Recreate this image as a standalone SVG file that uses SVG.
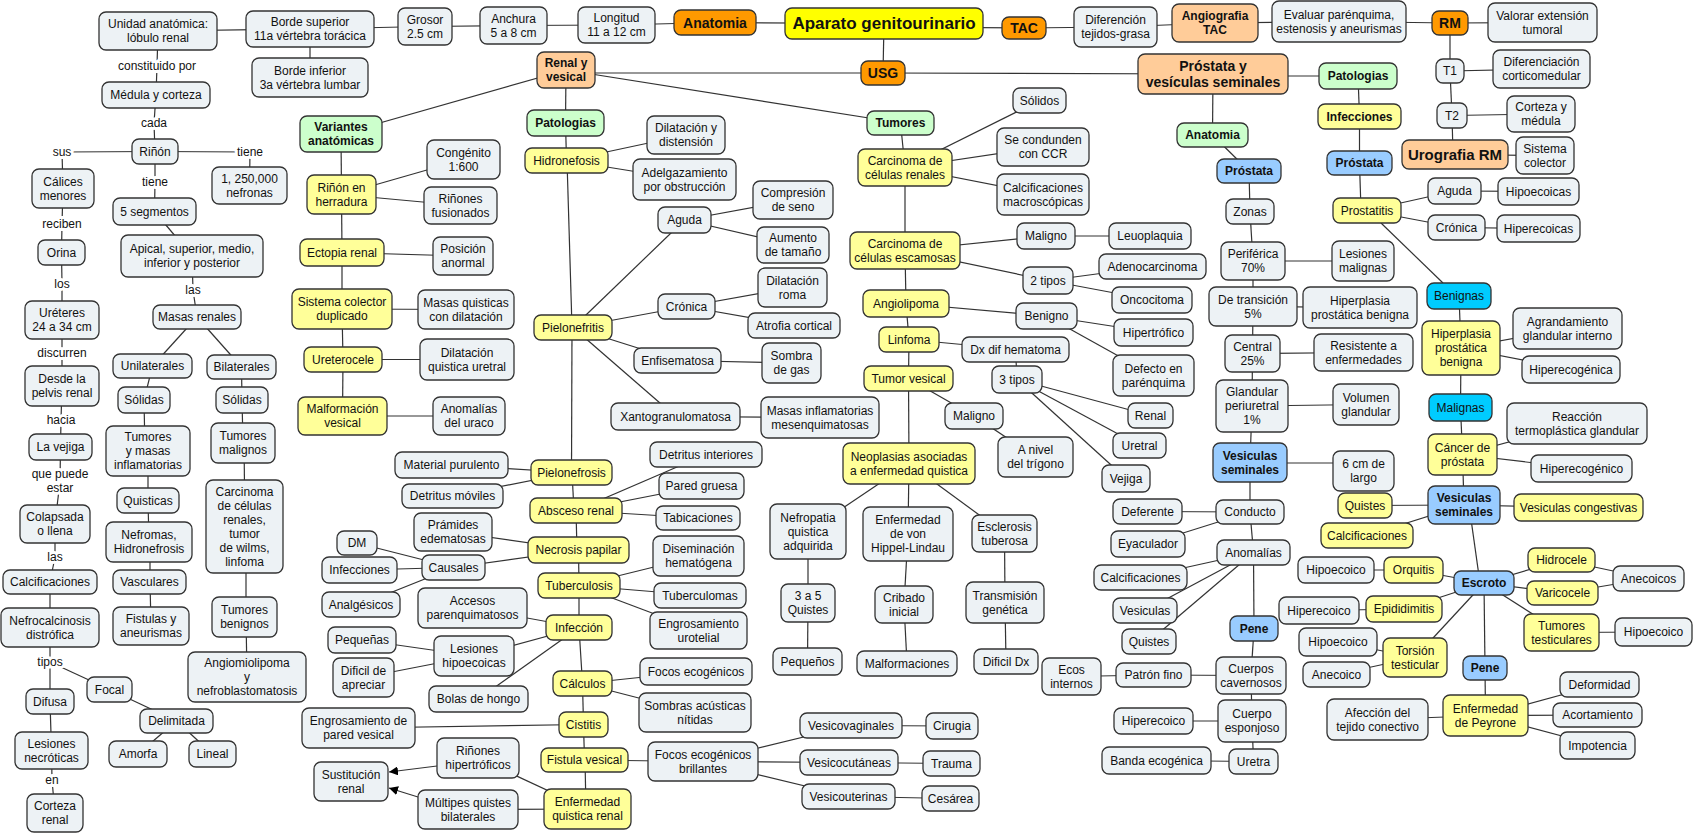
<svg xmlns="http://www.w3.org/2000/svg" width="1695" height="834" viewBox="0 0 1695 834">
<style>
rect{stroke:#333;stroke-width:1.3;rx:7px;ry:7px}
.g{fill:#EDF2F5}.y{fill:#FFFF99}.gr{fill:#CCFFCC}.o{fill:#FF9900}.lo{fill:#FFCC99}.b{fill:#99CCFF}.c{fill:#00CCFF}.ap{fill:#FFFF00}
text{font-family:"Liberation Sans",Arial,sans-serif;font-size:12px;text-anchor:middle;dominant-baseline:central;fill:#111}
.bd text{font-weight:700}
.big text{font-size:14px;font-weight:700}
#conn line{stroke:#333;stroke-width:1.2}
#labels text{stroke:#fff;stroke-width:6px;paint-order:stroke;stroke-linejoin:round}
</style>
<defs>
<marker id="arr" viewBox="0 0 10 10" refX="10" refY="5" markerWidth="9" markerHeight="9" orient="auto" markerUnits="userSpaceOnUse"><path d="M0,0L10,5L0,10z" fill="#000"/></marker>
</defs>
<rect x="0" y="0" width="1695" height="834" style="fill:#fff;stroke:none;rx:0"/>
<g id="conn">
<line x1="158" y1="31" x2="310" y2="29"/><line x1="310" y1="29" x2="425" y2="26.5"/><line x1="425" y1="26.5" x2="513.5" y2="25.5"/><line x1="513.5" y1="25.5" x2="616.5" y2="25"/><line x1="616.5" y1="25" x2="715" y2="22.5"/><line x1="715" y1="22.5" x2="884" y2="23.5"/><line x1="884" y1="27" x2="1024" y2="28"/><line x1="1024" y1="28" x2="1115.5" y2="27"/><line x1="1115.5" y1="27" x2="1215" y2="23"/><line x1="1215" y1="23" x2="1339" y2="21.5"/><line x1="1339" y1="21.5" x2="1450" y2="23"/><line x1="1450" y1="23" x2="1542.5" y2="22.5"/>
<line x1="310" y1="29" x2="310" y2="77.5"/><line x1="884" y1="23.5" x2="883" y2="73"/><line x1="566" y1="73" x2="883" y2="73"/><line x1="883" y1="73" x2="1213" y2="74"/>
<line x1="566" y1="70" x2="341" y2="134"/><line x1="566" y1="70" x2="565.5" y2="123"/><line x1="566" y1="70" x2="900.5" y2="123"/>
<line x1="1450" y1="23" x2="1450" y2="71"/><line x1="1450" y1="71" x2="1452" y2="115.5"/><line x1="1452" y1="115.5" x2="1453" y2="154.5"/><line x1="1450" y1="71" x2="1541.5" y2="69"/><line x1="1452" y1="115.5" x2="1541" y2="114"/><line x1="1455" y1="154.5" x2="1545" y2="155.5"/>
<line x1="1213" y1="76" x2="1358" y2="76"/><line x1="1358" y1="76" x2="1359.5" y2="116.5"/><line x1="1359.5" y1="116.5" x2="1359.5" y2="163"/><line x1="1359.5" y1="163" x2="1361" y2="210.5"/>
<line x1="1367" y1="210.5" x2="1454.5" y2="191"/><line x1="1454.5" y1="191" x2="1538.5" y2="191.5"/><line x1="1367" y1="210.5" x2="1456.5" y2="227.5"/><line x1="1456.5" y1="227.5" x2="1538.5" y2="228.5"/>
<line x1="1381" y1="223" x2="1443" y2="283"/><line x1="1459" y1="296" x2="1461" y2="348"/><line x1="1461" y1="348" x2="1460.5" y2="407.5"/><line x1="1460.5" y1="407.5" x2="1462.5" y2="454.5"/><line x1="1462.5" y1="454.5" x2="1464" y2="505"/><line x1="1469" y1="505" x2="1480" y2="583"/>
<line x1="1461" y1="348" x2="1567.5" y2="328.5"/><line x1="1461" y1="348" x2="1571" y2="369.5"/><line x1="1462.5" y1="454.5" x2="1577" y2="423.5"/><line x1="1462.5" y1="454.5" x2="1581.5" y2="468.5"/>
<line x1="1464" y1="505" x2="1365" y2="505.5"/><line x1="1464" y1="505" x2="1367" y2="535.5"/><line x1="1464" y1="505" x2="1578.5" y2="507.5"/>
<line x1="1484" y1="583" x2="1413.5" y2="570"/><line x1="1484" y1="583" x2="1404" y2="609"/><line x1="1484" y1="583" x2="1415" y2="657.5"/><line x1="1484" y1="583" x2="1561.5" y2="560"/><line x1="1484" y1="583" x2="1562.5" y2="593"/><line x1="1484" y1="583" x2="1561.5" y2="632.5"/><line x1="1484" y1="583" x2="1485" y2="668"/>
<line x1="1413.5" y1="570" x2="1336" y2="570"/><line x1="1404" y1="609" x2="1319" y2="610.5"/><line x1="1415" y1="657.5" x2="1338" y2="642"/><line x1="1415" y1="657.5" x2="1336.5" y2="674.5"/><line x1="1561.5" y1="560" x2="1648.5" y2="578.5"/><line x1="1562.5" y1="593" x2="1648.5" y2="578.5"/><line x1="1561.5" y1="632.5" x2="1653.5" y2="632"/>
<line x1="1485" y1="668" x2="1485.5" y2="715.5"/><line x1="1485.5" y1="715.5" x2="1599.5" y2="684.5"/><line x1="1485.5" y1="715.5" x2="1597.5" y2="715"/><line x1="1485.5" y1="715.5" x2="1597.5" y2="745.5"/><line x1="1485.5" y1="715.5" x2="1377.5" y2="719.5"/>
<line x1="1213" y1="74" x2="1212.5" y2="135"/><line x1="1212.5" y1="135" x2="1249" y2="171"/><line x1="1249" y1="171" x2="1250" y2="211.5"/><line x1="1250" y1="211.5" x2="1253" y2="261"/><line x1="1253" y1="261" x2="1253" y2="306.5"/><line x1="1253" y1="306.5" x2="1252.5" y2="353.5"/><line x1="1252.5" y1="353.5" x2="1252" y2="406"/><line x1="1252" y1="406" x2="1250" y2="462.5"/><line x1="1250" y1="462.5" x2="1250" y2="512"/><line x1="1250" y1="512" x2="1253.5" y2="552.5"/><line x1="1253.5" y1="552.5" x2="1254" y2="628.5"/><line x1="1254" y1="628.5" x2="1251" y2="675.5"/><line x1="1251" y1="675.5" x2="1252" y2="721"/><line x1="1252" y1="721" x2="1253.5" y2="761.5"/>
<line x1="1253" y1="261" x2="1363" y2="261"/><line x1="1253" y1="306.5" x2="1360" y2="307.5"/><line x1="1252.5" y1="353.5" x2="1363.5" y2="352.5"/><line x1="1252" y1="406" x2="1366" y2="404.5"/><line x1="1250" y1="463" x2="1363" y2="463"/>
<line x1="1250" y1="512" x2="1147.5" y2="511.5"/><line x1="1250" y1="512" x2="1148" y2="544"/><line x1="1253.5" y1="552.5" x2="1140.5" y2="577.5"/><line x1="1253.5" y1="552.5" x2="1145" y2="610.5"/><line x1="1253.5" y1="552.5" x2="1149" y2="641.5"/>
<line x1="1251" y1="675.5" x2="1153.5" y2="675"/><line x1="1153.5" y1="675" x2="1071.5" y2="676.5"/><line x1="1252" y1="721" x2="1153.5" y2="721"/><line x1="1253.5" y1="761.5" x2="1156.5" y2="760.5"/>
<line x1="341" y1="134" x2="341.5" y2="194.5"/><line x1="341.5" y1="194.5" x2="342" y2="252.5"/><line x1="342" y1="252.5" x2="342" y2="309"/><line x1="342" y1="309" x2="343" y2="359.5"/><line x1="343" y1="359.5" x2="342.5" y2="416"/>
<line x1="341.5" y1="194.5" x2="463.5" y2="159.5"/><line x1="341.5" y1="194.5" x2="460.5" y2="205.5"/><line x1="342" y1="252.5" x2="463" y2="256"/><line x1="342" y1="309" x2="466" y2="309.5"/><line x1="343" y1="359.5" x2="467" y2="359.5"/><line x1="342.5" y1="416" x2="469" y2="416"/>
<line x1="565.5" y1="123" x2="566.5" y2="160.5"/><line x1="567" y1="160.5" x2="572" y2="327.5"/><line x1="572" y1="327.5" x2="571.5" y2="472.5"/><line x1="572" y1="472.5" x2="574" y2="510.5"/><line x1="576" y1="510.5" x2="577" y2="550"/><line x1="578.5" y1="550" x2="579" y2="585.5"/><line x1="579" y1="585.5" x2="579" y2="627.5"/><line x1="579" y1="627.5" x2="582.5" y2="683.5"/><line x1="582.5" y1="683.5" x2="583.5" y2="724.5"/><line x1="583.5" y1="724.5" x2="584.5" y2="760"/><line x1="585" y1="760" x2="586" y2="809"/>
<line x1="566.5" y1="160.5" x2="686" y2="135"/><line x1="566.5" y1="160.5" x2="684.5" y2="179.5"/>
<line x1="573" y1="327.5" x2="684.5" y2="220"/><line x1="684.5" y1="220" x2="793" y2="200"/><line x1="684.5" y1="220" x2="793" y2="245"/>
<line x1="573" y1="327.5" x2="686.5" y2="306.5"/><line x1="686.5" y1="306.5" x2="792.5" y2="287.5"/><line x1="686.5" y1="306.5" x2="794" y2="325.5"/>
<line x1="573" y1="327.5" x2="677.5" y2="360.5"/><line x1="677.5" y1="360.5" x2="791.5" y2="363"/>
<line x1="573" y1="327.5" x2="675.5" y2="416.5"/><line x1="675.5" y1="416.5" x2="820" y2="417.5"/>
<line x1="571.5" y1="472.5" x2="451.5" y2="465"/><line x1="571.5" y1="472.5" x2="452.5" y2="496"/>
<line x1="576" y1="510.5" x2="706" y2="454.5"/><line x1="576" y1="510.5" x2="701.5" y2="486"/><line x1="576" y1="510.5" x2="698" y2="518"/>
<line x1="578.5" y1="550" x2="453" y2="532"/><line x1="578.5" y1="550" x2="453.5" y2="567.5"/><line x1="453.5" y1="567.5" x2="357" y2="543"/><line x1="453.5" y1="567.5" x2="359.5" y2="570"/><line x1="453.5" y1="567.5" x2="361" y2="604.5"/>
<line x1="579" y1="585.5" x2="698.5" y2="556"/><line x1="579" y1="585.5" x2="700" y2="595.5"/><line x1="579" y1="585.5" x2="698.5" y2="630.5"/>
<line x1="579" y1="627.5" x2="472.5" y2="608"/><line x1="579" y1="627.5" x2="474" y2="656"/><line x1="579" y1="627.5" x2="478.5" y2="699"/><line x1="474" y1="656" x2="362" y2="640"/><line x1="474" y1="656" x2="363.5" y2="677.5"/>
<line x1="582.5" y1="683.5" x2="696" y2="671.5"/><line x1="582.5" y1="683.5" x2="695" y2="712.5"/><line x1="583.5" y1="724.5" x2="358.5" y2="728"/>
<line x1="584.5" y1="760" x2="703" y2="761.5"/><line x1="703" y1="761.5" x2="851" y2="725.5"/><line x1="703" y1="761.5" x2="849" y2="762.5"/><line x1="703" y1="761.5" x2="848.5" y2="796.5"/>
<line x1="851" y1="725.5" x2="952" y2="726"/><line x1="849" y1="762.5" x2="951.5" y2="763.5"/><line x1="848.5" y1="796.5" x2="950.5" y2="798.5"/>
<line x1="587.5" y1="809" x2="478" y2="758"/><line x1="587.5" y1="809" x2="468" y2="809.5"/>
<line x1="437" y1="766" x2="389" y2="772" marker-end="url(#arr)"/><line x1="418" y1="797" x2="389" y2="788" marker-end="url(#arr)"/>
<line x1="900.5" y1="123" x2="905" y2="167.5"/><line x1="905" y1="167.5" x2="905" y2="250.5"/><line x1="905" y1="250.5" x2="906" y2="303.5"/><line x1="906" y1="303.5" x2="909" y2="339.5"/><line x1="909" y1="339.5" x2="908.5" y2="378.5"/><line x1="908.5" y1="378.5" x2="909" y2="463.5"/>
<line x1="905" y1="167.5" x2="1039.5" y2="100.5"/><line x1="905" y1="167.5" x2="1043" y2="147"/><line x1="905" y1="167.5" x2="1043" y2="194.5"/>
<line x1="905" y1="250.5" x2="1046" y2="236"/><line x1="1046" y1="236" x2="1150" y2="236"/><line x1="905" y1="250.5" x2="1048" y2="280.5"/><line x1="1048" y1="280.5" x2="1152.5" y2="266.5"/><line x1="1048" y1="280.5" x2="1152" y2="300"/>
<line x1="906" y1="303.5" x2="1046.5" y2="316"/><line x1="1046.5" y1="316" x2="1153.5" y2="332.5"/><line x1="1046.5" y1="316" x2="1153.5" y2="375.5"/>
<line x1="909" y1="339.5" x2="1015.5" y2="349.5"/><line x1="1015.5" y1="349.5" x2="1017" y2="379.5"/><line x1="1017" y1="379.5" x2="1150.5" y2="415.5"/><line x1="1017" y1="379.5" x2="1139.5" y2="445.5"/><line x1="1017" y1="379.5" x2="1126" y2="478.5"/>
<line x1="908.5" y1="378.5" x2="974" y2="416"/><line x1="974" y1="416" x2="1035.5" y2="457"/>
<line x1="909" y1="463.5" x2="808" y2="531.5"/><line x1="909" y1="463.5" x2="908" y2="534"/><line x1="909" y1="463.5" x2="1004.5" y2="533.5"/>
<line x1="808" y1="531.5" x2="808" y2="603"/><line x1="808" y1="603" x2="807.5" y2="661.5"/><line x1="908" y1="534" x2="904" y2="604.5"/><line x1="904" y1="604.5" x2="907" y2="663.5"/><line x1="1004.5" y1="533.5" x2="1005" y2="602.5"/><line x1="1005" y1="602.5" x2="1006" y2="661.5"/>
<line x1="158" y1="31" x2="157" y2="66"/><line x1="157" y1="66" x2="156" y2="95"/><line x1="156" y1="95" x2="154" y2="123"/><line x1="154" y1="123" x2="155" y2="151.5"/>
<line x1="155" y1="151.5" x2="62" y2="152"/><line x1="62" y1="152" x2="63" y2="188.5"/><line x1="63" y1="188.5" x2="62" y2="224"/><line x1="62" y1="224" x2="61.5" y2="252.5"/><line x1="61.5" y1="252.5" x2="62" y2="284"/><line x1="62" y1="284" x2="62" y2="320"/><line x1="62" y1="320" x2="62" y2="353"/><line x1="62" y1="353" x2="62" y2="386"/><line x1="62" y1="386" x2="61" y2="420"/><line x1="61" y1="420" x2="60.5" y2="447"/><line x1="60.5" y1="447" x2="60" y2="481"/><line x1="60" y1="481" x2="55" y2="524"/><line x1="55" y1="524" x2="55" y2="557"/><line x1="55" y1="557" x2="50" y2="582"/><line x1="50" y1="582" x2="50" y2="627.5"/><line x1="50" y1="627.5" x2="50" y2="662"/><line x1="50" y1="662" x2="50" y2="701.5"/><line x1="50" y1="701.5" x2="51.5" y2="750.5"/><line x1="51.5" y1="750.5" x2="52" y2="780"/><line x1="52" y1="780" x2="55" y2="813"/>
<line x1="50" y1="662" x2="109.5" y2="689.5"/><line x1="109.5" y1="689.5" x2="176.5" y2="721"/><line x1="176.5" y1="721" x2="138" y2="754"/><line x1="176.5" y1="721" x2="212.5" y2="754"/>
<line x1="155" y1="151.5" x2="250" y2="152"/><line x1="250" y1="152" x2="249.5" y2="185.5"/><line x1="155" y1="151.5" x2="155" y2="182"/><line x1="155" y1="182" x2="154.5" y2="211.5"/><line x1="154.5" y1="211.5" x2="192" y2="256"/><line x1="192" y1="256" x2="193" y2="290"/><line x1="193" y1="290" x2="197" y2="317"/>
<line x1="197" y1="317" x2="152.5" y2="366"/><line x1="197" y1="317" x2="241.5" y2="367"/>
<line x1="152.5" y1="366" x2="144" y2="400"/><line x1="144" y1="400" x2="145" y2="451"/><line x1="148" y1="451" x2="148" y2="500.5"/><line x1="148" y1="500.5" x2="149" y2="542"/><line x1="150" y1="542" x2="150" y2="582"/><line x1="150" y1="582" x2="151" y2="626"/>
<line x1="241.5" y1="367" x2="242" y2="400"/><line x1="242" y1="400" x2="243" y2="443"/><line x1="244" y1="443" x2="245" y2="526.5"/><line x1="246" y1="526.5" x2="246" y2="617"/><line x1="246" y1="617" x2="247" y2="677"/>
</g>
<g id="labels">
<text x="157" y="66">constituido por</text><text x="154" y="123">cada</text><text x="62" y="152">sus</text><text x="250" y="152">tiene</text><text x="155" y="182">tiene</text><text x="62" y="224">reciben</text><text x="62" y="284">los</text><text x="193" y="290">las</text><text x="62" y="353">discurren</text><text x="61" y="420">hacia</text><text x="60" y="474">que puede<tspan x="60" dy="14">estar</tspan></text><text x="55" y="557">las</text><text x="50" y="662">tipos</text><text x="52" y="780">en</text>
</g>
<g id="unidad"><rect class="g" x="99" y="12" width="118" height="38"/><text x="158" y="24">Unidad anatómica:<tspan x="158" dy="14">lóbulo renal</tspan></text></g>
<g id="bordesup"><rect class="g" x="246" y="11" width="128" height="36"/><text x="310" y="22">Borde superior<tspan x="310" dy="14">11a vértebra torácica</tspan></text></g>
<g id="grosor"><rect class="g" x="398" y="8" width="54" height="37"/><text x="425" y="19.5">Grosor<tspan x="425" dy="14">2.5 cm</tspan></text></g>
<g id="anchura"><rect class="g" x="480" y="7" width="67" height="37"/><text x="513.5" y="18.5">Anchura<tspan x="513.5" dy="14">5 a 8 cm</tspan></text></g>
<g id="longitud"><rect class="g" x="578" y="7" width="77" height="36"/><text x="616.5" y="18">Longitud<tspan x="616.5" dy="14">11 a 12 cm</tspan></text></g>
<g id="anatomia" class="big"><rect class="o" x="674" y="10" width="82" height="25"/><text x="715" y="22.5">Anatomia</text></g>
<g id="aparato" class="big"><rect class="ap" x="785" y="8" width="198" height="31"/><text x="884" y="23.5" style="font-size:17px">Aparato genitourinario</text></g>
<g id="tac" class="big"><rect class="o" x="1002" y="17" width="44" height="22"/><text x="1024" y="28">TAC</text></g>
<g id="diferencion"><rect class="g" x="1074" y="7" width="83" height="40"/><text x="1115.5" y="20">Diferención<tspan x="1115.5" dy="14">tejidos-grasa</tspan></text></g>
<g id="angio" class="bd"><rect class="lo" x="1172" y="4" width="86" height="38"/><text x="1215" y="16">Angiografia<tspan x="1215" dy="14">TAC</tspan></text></g>
<g id="evaluar"><rect class="g" x="1272" y="1" width="134" height="41"/><text x="1339" y="14.5">Evaluar parénquima,<tspan x="1339" dy="14">estenosis y aneurismas</tspan></text></g>
<g id="rm" class="big"><rect class="o" x="1432" y="11" width="36" height="24"/><text x="1450" y="23">RM</text></g>
<g id="valorar"><rect class="g" x="1488" y="3" width="109" height="39"/><text x="1542.5" y="15.5">Valorar extensión<tspan x="1542.5" dy="14">tumoral</tspan></text></g>
<g id="bordeinf"><rect class="g" x="252" y="58" width="116" height="39"/><text x="310" y="70.5">Borde inferior<tspan x="310" dy="14">3a vértebra lumbar</tspan></text></g>
<g id="usg" class="big"><rect class="o" x="861" y="61" width="44" height="24"/><text x="883" y="73">USG</text></g>
<g id="renal" class="bd"><rect class="lo" x="537" y="52" width="58" height="36"/><text x="566" y="63">Renal y<tspan x="566" dy="14">vesical</tspan></text></g>
<g id="prostves" class="big"><rect class="lo" x="1138" y="54" width="150" height="40"/><text x="1213" y="66">Próstata y<tspan x="1213" dy="16">vesículas seminales</tspan></text></g>
<g id="patologias2" class="bd"><rect class="gr" x="1319" y="63" width="78" height="26"/><text x="1358" y="76">Patologias</text></g>
<g id="t1"><rect class="g" x="1436" y="59" width="28" height="24"/><text x="1450" y="71">T1</text></g>
<g id="difcort"><rect class="g" x="1493" y="50" width="97" height="38"/><text x="1541.5" y="62">Diferenciación<tspan x="1541.5" dy="14">corticomedular</tspan></text></g>
<g id="infecciones" class="bd"><rect class="y" x="1318" y="104" width="83" height="25"/><text x="1359.5" y="116.5">Infecciones</text></g>
<g id="t2"><rect class="g" x="1437" y="103" width="30" height="25"/><text x="1452" y="115.5">T2</text></g>
<g id="cortezam"><rect class="g" x="1507" y="96" width="68" height="36"/><text x="1541" y="107">Corteza y<tspan x="1541" dy="14">médula</tspan></text></g>
<g id="urografia" class="big"><rect class="lo" x="1402" y="140" width="106" height="29"/><text x="1455" y="154.5" style="font-size:15px">Urografia RM</text></g>
<g id="sistcol"><rect class="g" x="1516" y="137" width="58" height="37"/><text x="1545" y="148.5">Sistema<tspan x="1545" dy="14">colector</tspan></text></g>
<g id="prostata2" class="bd"><rect class="b" x="1327" y="151" width="65" height="24"/><text x="1359.5" y="163">Próstata</text></g>
<g id="prostatitis"><rect class="y" x="1333" y="198" width="68" height="25"/><text x="1367" y="210.5">Prostatitis</text></g>
<g id="aguda2"><rect class="g" x="1428" y="178" width="53" height="26"/><text x="1454.5" y="191">Aguda</text></g>
<g id="hipoecoicas"><rect class="g" x="1498" y="178" width="81" height="27"/><text x="1538.5" y="191.5">Hipoecoicas</text></g>
<g id="cronica2"><rect class="g" x="1428" y="215" width="57" height="25"/><text x="1456.5" y="227.5">Crónica</text></g>
<g id="hiperecoicas"><rect class="g" x="1497" y="215" width="83" height="27"/><text x="1538.5" y="228.5">Hiperecoicas</text></g>
<g id="lesmal"><rect class="g" x="1332" y="241" width="62" height="40"/><text x="1363" y="254">Lesiones<tspan x="1363" dy="14">malignas</tspan></text></g>
<g id="benignas"><rect class="c" x="1427" y="283" width="64" height="26"/><text x="1459" y="296">Benignas</text></g>
<g id="anatomia2" class="bd"><rect class="gr" x="1177" y="123" width="71" height="24"/><text x="1212.5" y="135">Anatomia</text></g>
<g id="prostata1" class="bd"><rect class="b" x="1217" y="159" width="64" height="24"/><text x="1249" y="171">Próstata</text></g>
<g id="zonas"><rect class="g" x="1226" y="199" width="48" height="25"/><text x="1250" y="211.5">Zonas</text></g>
<g id="periferica"><rect class="g" x="1221" y="242" width="64" height="38"/><text x="1253" y="254">Periférica<tspan x="1253" dy="14">70%</tspan></text></g>
<g id="transicion"><rect class="g" x="1209" y="287" width="88" height="39"/><text x="1253" y="299.5">De transición<tspan x="1253" dy="14">5%</tspan></text></g>
<g id="central"><rect class="g" x="1225" y="335" width="55" height="37"/><text x="1252.5" y="346.5">Central<tspan x="1252.5" dy="14">25%</tspan></text></g>
<g id="glandular"><rect class="g" x="1216" y="380" width="72" height="52"/><text x="1252" y="392">Glandular<tspan x="1252" dy="14">periuretral</tspan><tspan x="1252" dy="14">1%</tspan></text></g>
<g id="vesic1" class="bd"><rect class="b" x="1213" y="443" width="74" height="39"/><text x="1250" y="455.5">Vesiculas<tspan x="1250" dy="14">seminales</tspan></text></g>
<g id="conducto"><rect class="g" x="1216" y="500" width="68" height="24"/><text x="1250" y="512">Conducto</text></g>
<g id="anomalias"><rect class="g" x="1217" y="540" width="73" height="25"/><text x="1253.5" y="552.5">Anomalías</text></g>
<g id="pene1" class="bd"><rect class="b" x="1230" y="616" width="48" height="25"/><text x="1254" y="628.5">Pene</text></g>
<g id="cuerposcav"><rect class="g" x="1216" y="657" width="70" height="37"/><text x="1251" y="668.5">Cuerpos<tspan x="1251" dy="14">cavernosos</tspan></text></g>
<g id="cuerpoesp"><rect class="g" x="1218" y="700" width="68" height="42"/><text x="1252" y="714">Cuerpo<tspan x="1252" dy="14">esponjoso</tspan></text></g>
<g id="uretra"><rect class="g" x="1229" y="749" width="49" height="25"/><text x="1253.5" y="761.5">Uretra</text></g>
<g id="hiperplasia_g"><rect class="g" x="1303" y="287" width="114" height="41"/><text x="1360" y="300.5">Hiperplasia<tspan x="1360" dy="14">prostática benigna</tspan></text></g>
<g id="resistente"><rect class="g" x="1314" y="334" width="99" height="37"/><text x="1363.5" y="345.5">Resistente a<tspan x="1363.5" dy="14">enfermedades</tspan></text></g>
<g id="volumen"><rect class="g" x="1333" y="384" width="66" height="41"/><text x="1366" y="397.5">Volumen<tspan x="1366" dy="14">glandular</tspan></text></g>
<g id="seiscm"><rect class="g" x="1333" y="451" width="61" height="40"/><text x="1363.5" y="464">6 cm de<tspan x="1363.5" dy="14">largo</tspan></text></g>
<g id="deferente"><rect class="g" x="1113" y="499" width="69" height="25"/><text x="1147.5" y="511.5">Deferente</text></g>
<g id="eyaculador"><rect class="g" x="1111" y="531" width="74" height="26"/><text x="1148" y="544">Eyaculador</text></g>
<g id="calcif3"><rect class="g" x="1094" y="565" width="93" height="25"/><text x="1140.5" y="577.5">Calcificaciones</text></g>
<g id="vesiculas_g"><rect class="g" x="1113" y="598" width="64" height="25"/><text x="1145" y="610.5">Vesiculas</text></g>
<g id="quistes_g"><rect class="g" x="1122" y="629" width="54" height="25"/><text x="1149" y="641.5">Quistes</text></g>
<g id="patronfino"><rect class="g" x="1116" y="663" width="75" height="24"/><text x="1153.5" y="675">Patrón fino</text></g>
<g id="ecosint"><rect class="g" x="1042" y="658" width="59" height="37"/><text x="1071.5" y="669.5">Ecos<tspan x="1071.5" dy="14">internos</tspan></text></g>
<g id="hiperecoico_g"><rect class="g" x="1114" y="708" width="79" height="26"/><text x="1153.5" y="721">Hiperecoico</text></g>
<g id="bandaeco"><rect class="g" x="1102" y="747" width="109" height="27"/><text x="1156.5" y="760.5">Banda ecogénica</text></g>
<g id="hiperplasia_y"><rect class="y" x="1422" y="321" width="78" height="54"/><text x="1461" y="334">Hiperplasia<tspan x="1461" dy="14">prostática</tspan><tspan x="1461" dy="14">benigna</tspan></text></g>
<g id="agrand"><rect class="g" x="1513" y="308" width="109" height="41"/><text x="1567.5" y="321.5">Agrandamiento<tspan x="1567.5" dy="14">glandular interno</tspan></text></g>
<g id="hiperecogenica"><rect class="g" x="1522" y="356" width="98" height="27"/><text x="1571" y="369.5">Hiperecogénica</text></g>
<g id="malignas"><rect class="c" x="1429" y="394" width="63" height="27"/><text x="1460.5" y="407.5">Malignas</text></g>
<g id="reaccion"><rect class="g" x="1507" y="403" width="140" height="41"/><text x="1577" y="416.5">Reacción<tspan x="1577" dy="14">termoplástica glandular</tspan></text></g>
<g id="cancer"><rect class="y" x="1428" y="434" width="69" height="41"/><text x="1462.5" y="447.5">Cáncer de<tspan x="1462.5" dy="14">próstata</tspan></text></g>
<g id="hiperecogenico"><rect class="g" x="1531" y="455" width="101" height="27"/><text x="1581.5" y="468.5">Hiperecogénico</text></g>
<g id="vesic2" class="bd"><rect class="b" x="1428" y="486" width="72" height="38"/><text x="1464" y="498">Vesiculas<tspan x="1464" dy="14">seminales</tspan></text></g>
<g id="quistes_y"><rect class="y" x="1338" y="493" width="54" height="25"/><text x="1365" y="505.5">Quistes</text></g>
<g id="vescong"><rect class="y" x="1514" y="494" width="129" height="27"/><text x="1578.5" y="507.5">Vesiculas congestivas</text></g>
<g id="calcif_y"><rect class="y" x="1321" y="523" width="92" height="25"/><text x="1367" y="535.5">Calcificaciones</text></g>
<g id="escroto" class="bd"><rect class="b" x="1454" y="571" width="60" height="24"/><text x="1484" y="583">Escroto</text></g>
<g id="hidrocele"><rect class="y" x="1528" y="548" width="67" height="24"/><text x="1561.5" y="560">Hidrocele</text></g>
<g id="anecoicos"><rect class="g" x="1613" y="566" width="71" height="25"/><text x="1648.5" y="578.5">Anecoicos</text></g>
<g id="varicocele"><rect class="y" x="1527" y="581" width="71" height="24"/><text x="1562.5" y="593">Varicocele</text></g>
<g id="hipo_orq"><rect class="g" x="1298" y="557" width="76" height="26"/><text x="1336" y="570">Hipoecoico</text></g>
<g id="orquitis"><rect class="y" x="1384" y="557" width="59" height="26"/><text x="1413.5" y="570">Orquitis</text></g>
<g id="hiper_epi"><rect class="g" x="1279" y="597" width="80" height="27"/><text x="1319" y="610.5">Hiperecoico</text></g>
<g id="epididimitis"><rect class="y" x="1366" y="596" width="76" height="26"/><text x="1404" y="609">Epididimitis</text></g>
<g id="tumtest"><rect class="y" x="1524" y="614" width="75" height="37"/><text x="1561.5" y="625.5">Tumores<tspan x="1561.5" dy="14">testiculares</tspan></text></g>
<g id="hipo_tum"><rect class="g" x="1615" y="618" width="77" height="28"/><text x="1653.5" y="632">Hipoecoico</text></g>
<g id="hipo_tor"><rect class="g" x="1299" y="628" width="78" height="28"/><text x="1338" y="642">Hipoecoico</text></g>
<g id="torsion"><rect class="y" x="1383" y="638" width="64" height="39"/><text x="1415" y="650.5">Torsión<tspan x="1415" dy="14">testicular</tspan></text></g>
<g id="anecoico"><rect class="g" x="1303" y="662" width="67" height="25"/><text x="1336.5" y="674.5">Anecoico</text></g>
<g id="pene2" class="bd"><rect class="b" x="1463" y="656" width="44" height="24"/><text x="1485" y="668">Pene</text></g>
<g id="deformidad"><rect class="g" x="1560" y="672" width="79" height="25"/><text x="1599.5" y="684.5">Deformidad</text></g>
<g id="acortamiento"><rect class="g" x="1553" y="703" width="89" height="24"/><text x="1597.5" y="715">Acortamiento</text></g>
<g id="peyrone"><rect class="y" x="1443" y="695" width="85" height="41"/><text x="1485.5" y="708.5">Enfermedad<tspan x="1485.5" dy="14">de Peyrone</tspan></text></g>
<g id="afeccion"><rect class="g" x="1327" y="699" width="101" height="41"/><text x="1377.5" y="712.5">Afección del<tspan x="1377.5" dy="14">tejido conectivo</tspan></text></g>
<g id="impotencia"><rect class="g" x="1560" y="732" width="75" height="27"/><text x="1597.5" y="745.5">Impotencia</text></g>
<g id="tumores" class="bd"><rect class="gr" x="867" y="111" width="67" height="24"/><text x="900.5" y="123">Tumores</text></g>
<g id="solidos"><rect class="g" x="1013" y="88" width="53" height="25"/><text x="1039.5" y="100.5">Sólidos</text></g>
<g id="second"><rect class="g" x="997" y="128" width="92" height="38"/><text x="1043" y="140">Se condunden<tspan x="1043" dy="14">con CCR</tspan></text></g>
<g id="ccr"><rect class="y" x="858" y="149" width="94" height="37"/><text x="905" y="160.5">Carcinoma de<tspan x="905" dy="14">células renales</tspan></text></g>
<g id="calcmacro"><rect class="g" x="997" y="174" width="92" height="41"/><text x="1043" y="187.5">Calcificaciones<tspan x="1043" dy="14">macroscópicas</tspan></text></g>
<g id="cce"><rect class="y" x="850" y="232" width="110" height="37"/><text x="905" y="243.5">Carcinoma de<tspan x="905" dy="14">células escamosas</tspan></text></g>
<g id="maligno1"><rect class="g" x="1017" y="223" width="58" height="26"/><text x="1046" y="236">Maligno</text></g>
<g id="leuoplaquia"><rect class="g" x="1109" y="223" width="82" height="26"/><text x="1150" y="236">Leuoplaquia</text></g>
<g id="dostipos"><rect class="g" x="1023" y="267" width="50" height="27"/><text x="1048" y="280.5">2 tipos</text></g>
<g id="adenocarcinoma"><rect class="g" x="1099" y="254" width="107" height="25"/><text x="1152.5" y="266.5">Adenocarcinoma</text></g>
<g id="oncocitoma"><rect class="g" x="1112" y="287" width="80" height="26"/><text x="1152" y="300">Oncocitoma</text></g>
<g id="angiolipoma"><rect class="y" x="863" y="290" width="86" height="27"/><text x="906" y="303.5">Angiolipoma</text></g>
<g id="benigno"><rect class="g" x="1016" y="303" width="61" height="26"/><text x="1046.5" y="316">Benigno</text></g>
<g id="hipertrofico"><rect class="g" x="1114" y="319" width="79" height="27"/><text x="1153.5" y="332.5">Hipertrófico</text></g>
<g id="linfoma"><rect class="y" x="879" y="327" width="60" height="25"/><text x="909" y="339.5">Linfoma</text></g>
<g id="dxdif"><rect class="g" x="962" y="337" width="107" height="25"/><text x="1015.5" y="349.5">Dx dif hematoma</text></g>
<g id="defecto"><rect class="g" x="1113" y="355" width="81" height="41"/><text x="1153.5" y="368.5">Defecto en<tspan x="1153.5" dy="14">parénquima</tspan></text></g>
<g id="trestipos"><rect class="g" x="992" y="366" width="50" height="27"/><text x="1017" y="379.5">3 tipos</text></g>
<g id="tumorves"><rect class="y" x="864" y="366" width="89" height="25"/><text x="908.5" y="378.5">Tumor vesical</text></g>
<g id="maligno2"><rect class="g" x="945" y="403" width="58" height="26"/><text x="974" y="416">Maligno</text></g>
<g id="renal_g"><rect class="g" x="1128" y="403" width="45" height="25"/><text x="1150.5" y="415.5">Renal</text></g>
<g id="uretral"><rect class="g" x="1113" y="433" width="53" height="25"/><text x="1139.5" y="445.5">Uretral</text></g>
<g id="anivel"><rect class="g" x="998" y="437" width="75" height="40"/><text x="1035.5" y="450">A nivel<tspan x="1035.5" dy="14">del trígono</tspan></text></g>
<g id="vejiga"><rect class="g" x="1102" y="465" width="48" height="27"/><text x="1126" y="478.5">Vejiga</text></g>
<g id="neoplasias"><rect class="y" x="843" y="443" width="132" height="41"/><text x="909" y="456.5">Neoplasias asociadas<tspan x="909" dy="14">a enfermedad quistica</tspan></text></g>
<g id="nefropatia"><rect class="g" x="770" y="504" width="76" height="55"/><text x="808" y="517.5">Nefropatia<tspan x="808" dy="14">quistica</tspan><tspan x="808" dy="14">adquirida</tspan></text></g>
<g id="vonhippel"><rect class="g" x="863" y="507" width="90" height="54"/><text x="908" y="520">Enfermedad<tspan x="908" dy="14">de von</tspan><tspan x="908" dy="14">Hippel-Lindau</tspan></text></g>
<g id="esclerosis"><rect class="g" x="972" y="515" width="65" height="37"/><text x="1004.5" y="526.5">Esclerosis<tspan x="1004.5" dy="14">tuberosa</tspan></text></g>
<g id="tresacinco"><rect class="g" x="781" y="584" width="54" height="38"/><text x="808" y="596">3 a 5<tspan x="808" dy="14">Quistes</tspan></text></g>
<g id="cribado"><rect class="g" x="875" y="586" width="58" height="37"/><text x="904" y="597.5">Cribado<tspan x="904" dy="14">inicial</tspan></text></g>
<g id="transmision"><rect class="g" x="966" y="582" width="78" height="41"/><text x="1005" y="595.5">Transmisión<tspan x="1005" dy="14">genética</tspan></text></g>
<g id="pequenos"><rect class="g" x="773" y="648" width="69" height="27"/><text x="807.5" y="661.5">Pequeños</text></g>
<g id="malformaciones"><rect class="g" x="857" y="651" width="100" height="25"/><text x="907" y="663.5">Malformaciones</text></g>
<g id="dificildx"><rect class="g" x="974" y="649" width="64" height="25"/><text x="1006" y="661.5">Dificil Dx</text></g>
<g id="patologias1" class="bd"><rect class="gr" x="527" y="110" width="77" height="26"/><text x="565.5" y="123">Patologias</text></g>
<g id="hidronefosis"><rect class="y" x="525" y="148" width="83" height="25"/><text x="566.5" y="160.5">Hidronefosis</text></g>
<g id="dilatdist"><rect class="g" x="647" y="116" width="78" height="38"/><text x="686" y="128">Dilatación y<tspan x="686" dy="14">distensión</tspan></text></g>
<g id="adelg"><rect class="g" x="633" y="159" width="103" height="41"/><text x="684.5" y="172.5">Adelgazamiento<tspan x="684.5" dy="14">por obstrucción</tspan></text></g>
<g id="compresion"><rect class="g" x="753" y="181" width="80" height="38"/><text x="793" y="193">Compresión<tspan x="793" dy="14">de seno</tspan></text></g>
<g id="aguda1"><rect class="g" x="658" y="207" width="53" height="26"/><text x="684.5" y="220">Aguda</text></g>
<g id="aumento"><rect class="g" x="757" y="227" width="72" height="36"/><text x="793" y="238">Aumento<tspan x="793" dy="14">de tamaño</tspan></text></g>
<g id="dilatroma"><rect class="g" x="758" y="268" width="69" height="39"/><text x="792.5" y="280.5">Dilatación<tspan x="792.5" dy="14">roma</tspan></text></g>
<g id="cronica1"><rect class="g" x="658" y="294" width="57" height="25"/><text x="686.5" y="306.5">Crónica</text></g>
<g id="atrofia"><rect class="g" x="748" y="313" width="92" height="25"/><text x="794" y="325.5">Atrofia cortical</text></g>
<g id="pielonefritis"><rect class="y" x="534" y="315" width="78" height="25"/><text x="573" y="327.5">Pielonefritis</text></g>
<g id="enfisematosa"><rect class="g" x="634" y="348" width="87" height="25"/><text x="677.5" y="360.5">Enfisematosa</text></g>
<g id="sombragas"><rect class="g" x="762" y="343" width="59" height="40"/><text x="791.5" y="356">Sombra<tspan x="791.5" dy="14">de gas</tspan></text></g>
<g id="xanto"><rect class="g" x="611" y="403" width="129" height="27"/><text x="675.5" y="416.5">Xantogranulomatosa</text></g>
<g id="masasinfl"><rect class="g" x="761" y="397" width="118" height="41"/><text x="820" y="410.5">Masas inflamatorias<tspan x="820" dy="14">mesenquimatosas</tspan></text></g>
<g id="detritusint"><rect class="g" x="650" y="442" width="112" height="25"/><text x="706" y="454.5">Detritus interiores</text></g>
<g id="pielonefrosis"><rect class="y" x="531" y="460" width="81" height="25"/><text x="571.5" y="472.5">Pielonefrosis</text></g>
<g id="paredgruesa"><rect class="g" x="659" y="473" width="85" height="26"/><text x="701.5" y="486">Pared gruesa</text></g>
<g id="absceso"><rect class="y" x="530" y="498" width="92" height="25"/><text x="576" y="510.5">Absceso renal</text></g>
<g id="tabicaciones"><rect class="g" x="656" y="506" width="84" height="24"/><text x="698" y="518">Tabicaciones</text></g>
<g id="necrosis"><rect class="y" x="528" y="537" width="101" height="26"/><text x="578.5" y="550">Necrosis papilar</text></g>
<g id="disem"><rect class="g" x="653" y="536" width="91" height="40"/><text x="698.5" y="549">Diseminación<tspan x="698.5" dy="14">hematógena</tspan></text></g>
<g id="materialpur"><rect class="g" x="395" y="452" width="113" height="26"/><text x="451.5" y="465">Material purulento</text></g>
<g id="detritusmov"><rect class="g" x="402" y="484" width="101" height="24"/><text x="452.5" y="496">Detritus móviles</text></g>
<g id="pramides"><rect class="g" x="414" y="513" width="78" height="38"/><text x="453" y="525">Prámides<tspan x="453" dy="14">edematosas</tspan></text></g>
<g id="dm"><rect class="g" x="337" y="531" width="40" height="24"/><text x="357" y="543">DM</text></g>
<g id="infecciones_g"><rect class="g" x="322" y="557" width="75" height="26"/><text x="359.5" y="570">Infecciones</text></g>
<g id="causales"><rect class="g" x="422" y="555" width="63" height="25"/><text x="453.5" y="567.5">Causales</text></g>
<g id="analgesicos"><rect class="g" x="322" y="592" width="78" height="25"/><text x="361" y="604.5">Analgésicos</text></g>
<g id="tuberculosis"><rect class="y" x="538" y="573" width="82" height="25"/><text x="579" y="585.5">Tuberculosis</text></g>
<g id="tuberculomas"><rect class="g" x="654" y="583" width="92" height="25"/><text x="700" y="595.5">Tuberculomas</text></g>
<g id="accesos"><rect class="g" x="418" y="588" width="109" height="40"/><text x="472.5" y="601">Accesos<tspan x="472.5" dy="14">parenquimatosos</tspan></text></g>
<g id="infeccion"><rect class="y" x="546" y="615" width="66" height="25"/><text x="579" y="627.5">Infección</text></g>
<g id="engurot"><rect class="g" x="650" y="612" width="97" height="37"/><text x="698.5" y="623.5">Engrosamiento<tspan x="698.5" dy="14">urotelial</tspan></text></g>
<g id="pequenas"><rect class="g" x="328" y="627" width="68" height="26"/><text x="362" y="640">Pequeñas</text></g>
<g id="leshipo"><rect class="g" x="434" y="636" width="80" height="40"/><text x="474" y="649">Lesiones<tspan x="474" dy="14">hipoecoicas</tspan></text></g>
<g id="dificilap"><rect class="g" x="333" y="658" width="61" height="39"/><text x="363.5" y="670.5">Dificil de<tspan x="363.5" dy="14">apreciar</tspan></text></g>
<g id="focoseco"><rect class="g" x="640" y="658" width="112" height="27"/><text x="696" y="671.5">Focos ecogénicos</text></g>
<g id="calculos"><rect class="y" x="553" y="671" width="59" height="25"/><text x="582.5" y="683.5">Cálculos</text></g>
<g id="bolas"><rect class="g" x="429" y="686" width="99" height="26"/><text x="478.5" y="699">Bolas de hongo</text></g>
<g id="sombrasac"><rect class="g" x="639" y="693" width="112" height="39"/><text x="695" y="705.5">Sombras acústicas<tspan x="695" dy="14">nítidas</tspan></text></g>
<g id="cistitis"><rect class="y" x="559" y="712" width="49" height="25"/><text x="583.5" y="724.5">Cistitis</text></g>
<g id="engpared"><rect class="g" x="302" y="708" width="113" height="40"/><text x="358.5" y="721">Engrosamiento de<tspan x="358.5" dy="14">pared vesical</tspan></text></g>
<g id="rinhipert"><rect class="g" x="437" y="738" width="82" height="40"/><text x="478" y="751">Riñones<tspan x="478" dy="14">hipertróficos</tspan></text></g>
<g id="fistulaves"><rect class="y" x="541" y="748" width="87" height="24"/><text x="584.5" y="760">Fistula vesical</text></g>
<g id="focosbrill"><rect class="g" x="648" y="742" width="110" height="39"/><text x="703" y="754.5">Focos ecogénicos<tspan x="703" dy="14">brillantes</tspan></text></g>
<g id="vesicovag"><rect class="g" x="800" y="713" width="102" height="25"/><text x="851" y="725.5">Vesicovaginales</text></g>
<g id="vesicocut"><rect class="g" x="800" y="750" width="98" height="25"/><text x="849" y="762.5">Vesicocutáneas</text></g>
<g id="vesicout"><rect class="g" x="802" y="784" width="93" height="25"/><text x="848.5" y="796.5">Vesicouterinas</text></g>
<g id="cirugia"><rect class="g" x="926" y="713" width="52" height="26"/><text x="952" y="726">Cirugia</text></g>
<g id="trauma"><rect class="g" x="923" y="751" width="57" height="25"/><text x="951.5" y="763.5">Trauma</text></g>
<g id="cesarea"><rect class="g" x="922" y="786" width="57" height="25"/><text x="950.5" y="798.5">Cesárea</text></g>
<g id="multiples"><rect class="g" x="418" y="790" width="100" height="39"/><text x="468" y="802.5">Múltipes quistes<tspan x="468" dy="14">bilaterales</tspan></text></g>
<g id="enfquist"><rect class="y" x="544" y="789" width="87" height="40"/><text x="587.5" y="802">Enfermedad<tspan x="587.5" dy="14">quistica renal</tspan></text></g>
<g id="sustitucion"><rect class="g" x="314" y="762" width="74" height="39"/><text x="351" y="774.5">Sustitución<tspan x="351" dy="14">renal</tspan></text></g>
<g id="variantes" class="bd"><rect class="gr" x="300" y="116" width="82" height="36"/><text x="341" y="127">Variantes<tspan x="341" dy="14">anatómicas</tspan></text></g>
<g id="herradura"><rect class="y" x="307" y="175" width="69" height="39"/><text x="341.5" y="187.5">Riñón en<tspan x="341.5" dy="14">herradura</tspan></text></g>
<g id="congenito"><rect class="g" x="427" y="140" width="73" height="39"/><text x="463.5" y="152.5">Congénito<tspan x="463.5" dy="14">1:600</tspan></text></g>
<g id="fusionados"><rect class="g" x="424" y="187" width="73" height="37"/><text x="460.5" y="198.5">Riñones<tspan x="460.5" dy="14">fusionados</tspan></text></g>
<g id="ectopia"><rect class="y" x="300" y="239" width="84" height="27"/><text x="342" y="252.5">Ectopia renal</text></g>
<g id="posicion"><rect class="g" x="433" y="237" width="60" height="38"/><text x="463" y="249">Posición<tspan x="463" dy="14">anormal</tspan></text></g>
<g id="sistcoldup"><rect class="y" x="292" y="289" width="100" height="40"/><text x="342" y="302">Sistema colector<tspan x="342" dy="14">duplicado</tspan></text></g>
<g id="masasquist"><rect class="g" x="418" y="290" width="96" height="39"/><text x="466" y="302.5">Masas quisticas<tspan x="466" dy="14">con dilatación</tspan></text></g>
<g id="ureterocele"><rect class="y" x="304" y="347" width="78" height="25"/><text x="343" y="359.5">Ureterocele</text></g>
<g id="dilatquist"><rect class="g" x="420" y="339" width="94" height="41"/><text x="467" y="352.5">Dilatación<tspan x="467" dy="14">quistica uretral</tspan></text></g>
<g id="malfves"><rect class="y" x="298" y="397" width="89" height="38"/><text x="342.5" y="409">Malformación<tspan x="342.5" dy="14">vesical</tspan></text></g>
<g id="anomuraco"><rect class="g" x="433" y="397" width="72" height="38"/><text x="469" y="409">Anomalías<tspan x="469" dy="14">del uraco</tspan></text></g>
<g id="medula"><rect class="g" x="102" y="82" width="108" height="26"/><text x="156" y="95">Médula y corteza</text></g>
<g id="rinon"><rect class="g" x="132" y="139" width="46" height="25"/><text x="155" y="151.5">Riñón</text></g>
<g id="calices"><rect class="g" x="32" y="169" width="62" height="39"/><text x="63" y="181.5">Cálices<tspan x="63" dy="14">menores</tspan></text></g>
<g id="nefronas"><rect class="g" x="212" y="167" width="75" height="37"/><text x="249.5" y="178.5">1, 250,000<tspan x="249.5" dy="14">nefronas</tspan></text></g>
<g id="segmentos"><rect class="g" x="113" y="198" width="83" height="27"/><text x="154.5" y="211.5">5 segmentos</text></g>
<g id="orina"><rect class="g" x="38" y="240" width="47" height="25"/><text x="61.5" y="252.5">Orina</text></g>
<g id="apical"><rect class="g" x="121" y="235" width="142" height="42"/><text x="192" y="249">Apical, superior, medio,<tspan x="192" dy="14">inferior y posterior</tspan></text></g>
<g id="ureteres"><rect class="g" x="25" y="301" width="74" height="38"/><text x="62" y="313">Uréteres<tspan x="62" dy="14">24 a 34 cm</tspan></text></g>
<g id="masasren"><rect class="g" x="153" y="305" width="88" height="24"/><text x="197" y="317">Masas renales</text></g>
<g id="desde"><rect class="g" x="25" y="366" width="74" height="40"/><text x="62" y="379">Desde la<tspan x="62" dy="14">pelvis renal</tspan></text></g>
<g id="unilat"><rect class="g" x="113" y="354" width="79" height="24"/><text x="152.5" y="366">Unilaterales</text></g>
<g id="bilat"><rect class="g" x="207" y="355" width="69" height="24"/><text x="241.5" y="367">Bilaterales</text></g>
<g id="solidas1"><rect class="g" x="118" y="387" width="52" height="26"/><text x="144" y="400">Sólidas</text></g>
<g id="solidas2"><rect class="g" x="216" y="387" width="52" height="26"/><text x="242" y="400">Sólidas</text></g>
<g id="lavejiga"><rect class="g" x="29" y="434" width="63" height="26"/><text x="60.5" y="447">La vejiga</text></g>
<g id="tumymasas"><rect class="g" x="106" y="426" width="84" height="50"/><text x="148" y="437">Tumores<tspan x="148" dy="14">y masas</tspan><tspan x="148" dy="14">inflamatorias</tspan></text></g>
<g id="tummal"><rect class="g" x="211" y="423" width="64" height="40"/><text x="243" y="436">Tumores<tspan x="243" dy="14">malignos</tspan></text></g>
<g id="colapsada"><rect class="g" x="20" y="505" width="70" height="38"/><text x="55" y="517">Colapsada<tspan x="55" dy="14">o llena</tspan></text></g>
<g id="quisticas"><rect class="g" x="117" y="488" width="62" height="25"/><text x="148" y="500.5">Quisticas</text></g>
<g id="carcinoma5"><rect class="g" x="206" y="480" width="77" height="93"/><text x="244.5" y="491.5">Carcinoma<tspan x="244.5" dy="14">de células</tspan><tspan x="244.5" dy="14">renales,</tspan><tspan x="244.5" dy="14">tumor</tspan><tspan x="244.5" dy="14">de wilms,</tspan><tspan x="244.5" dy="14">linfoma</tspan></text></g>
<g id="nefromas"><rect class="g" x="106" y="522" width="86" height="40"/><text x="149" y="535">Nefromas,<tspan x="149" dy="14">Hidronefrosis</tspan></text></g>
<g id="calcif1"><rect class="g" x="3" y="570" width="94" height="24"/><text x="50" y="582">Calcificaciones</text></g>
<g id="vasculares"><rect class="g" x="113" y="570" width="73" height="24"/><text x="149.5" y="582">Vasculares</text></g>
<g id="tumben"><rect class="g" x="212" y="597" width="65" height="40"/><text x="244.5" y="610">Tumores<tspan x="244.5" dy="14">benignos</tspan></text></g>
<g id="nefrocal"><rect class="g" x="1" y="608" width="98" height="39"/><text x="50" y="620.5">Nefrocalcinosis<tspan x="50" dy="14">distrófica</tspan></text></g>
<g id="fistulas"><rect class="g" x="113" y="607" width="76" height="38"/><text x="151" y="619">Fistulas y<tspan x="151" dy="14">aneurismas</tspan></text></g>
<g id="angiomio"><rect class="g" x="188" y="652" width="118" height="50"/><text x="247" y="663">Angiomiolipoma<tspan x="247" dy="14">y</tspan><tspan x="247" dy="14">nefroblastomatosis</tspan></text></g>
<g id="focal"><rect class="g" x="87" y="677" width="45" height="25"/><text x="109.5" y="689.5">Focal</text></g>
<g id="difusa"><rect class="g" x="26" y="689" width="48" height="25"/><text x="50" y="701.5">Difusa</text></g>
<g id="delimitada"><rect class="g" x="140" y="709" width="73" height="24"/><text x="176.5" y="721">Delimitada</text></g>
<g id="lesnec"><rect class="g" x="15" y="732" width="73" height="37"/><text x="51.5" y="743.5">Lesiones<tspan x="51.5" dy="14">necróticas</tspan></text></g>
<g id="amorfa"><rect class="g" x="109" y="741" width="58" height="26"/><text x="138" y="754">Amorfa</text></g>
<g id="lineal"><rect class="g" x="189" y="741" width="47" height="26"/><text x="212.5" y="754">Lineal</text></g>
<g id="cortezar"><rect class="g" x="27" y="794" width="56" height="38"/><text x="55" y="806">Corteza<tspan x="55" dy="14">renal</tspan></text></g>
</svg>
